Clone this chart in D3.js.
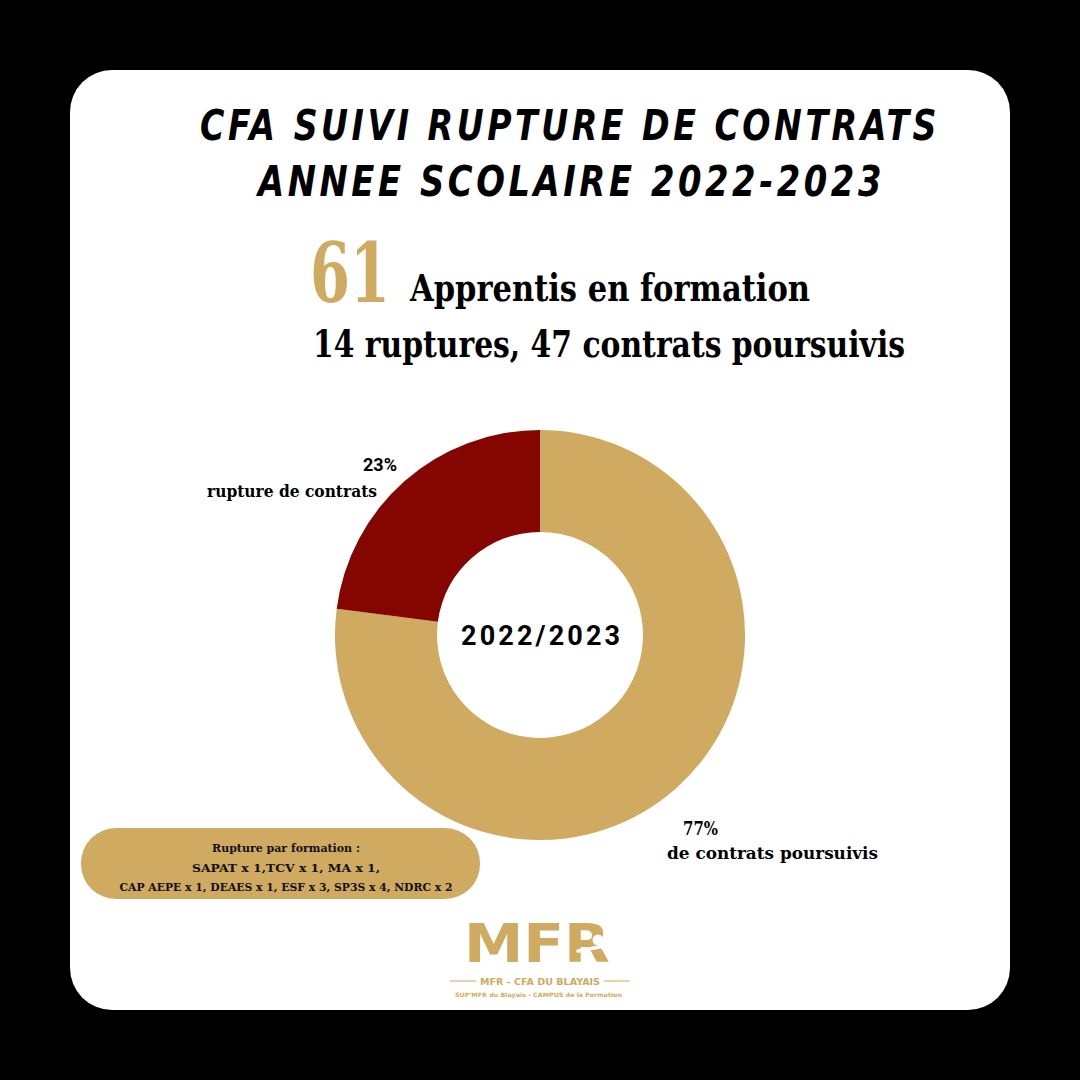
<!DOCTYPE html>
<meta charset="utf-8">
<style>
body { margin: 0; background: #000; }
svg { display: block; }
.serif { font-family: "DejaVu Serif", "Liberation Serif", serif; font-weight: bold; }
</style>
<body>
<script src="https://cdn.jsdelivr.net/npm/d3@7"></script>
<script>

var WIDTH = 1080;
var HEIGHT = 1080;
var GOLD = '#CFAA60';
var RED = '#850500';

// data
var categories = ['contrats poursuivis', 'rupture de contrats'];
var counts = [47, 14];
var sliceColors = [GOLD, RED];
var titleLines = ['CFA SUIVI RUPTURE DE CONTRATS', 'ANNEE SCOLAIRE 2022-2023'];
var detailLines = ['Rupture par formation :',
                   'SAPAT x 1,TCV x 1, MA x 1,',
                   'CAP AEPE x 1, DEAES x 1, ESF x 3, SP3S x 4, NDRC x 2'];

var total = d3.sum(counts);

var svg = d3.select('body').append('svg')
    .attr('width', WIDTH)
    .attr('height', HEIGHT);

svg.append('rect')
    .attr('width', WIDTH).attr('height', HEIGHT)
    .attr('fill', '#000');

// white card
svg.append('rect')
    .attr('x', 70).attr('y', 70)
    .attr('width', 940).attr('height', 940)
    .attr('rx', 42).attr('ry', 42)
    .attr('fill', '#fff');

// title
var titleX = [200, 258];
var titleW = [740, 627];
svg.selectAll('.title')
  .data(titleLines)
  .enter().append('text')
    .attr('class', 'title')
    .attr('x', function(d, i) { return titleX[i]; })
    .attr('y', function(d, i) { return 140 + i * 56; })
    .attr('font-family', '"DejaVu Sans Condensed", "DejaVu Sans", sans-serif')
    .attr('font-weight', 'bold')
    .attr('font-style', 'italic')
    .attr('font-size', 42)
    .attr('letter-spacing', 4)
    .attr('textLength', function(d, i) { return titleW[i]; })
    .attr('lengthAdjust', 'spacingAndGlyphs')
    .attr('fill', '#000')
    .text(function(d) { return d; });

// headline
svg.append('text')
    .attr('class', 'serif')
    .attr('x', 310).attr('y', 302)
    .attr('font-size', 82)
    .attr('textLength', 80)
    .attr('lengthAdjust', 'spacingAndGlyphs')
    .attr('fill', GOLD)
    .text(total);

svg.append('text')
    .attr('class', 'serif')
    .attr('x', 410).attr('y', 301)
    .attr('font-size', 38)
    .attr('textLength', 400)
    .attr('lengthAdjust', 'spacingAndGlyphs')
    .attr('fill', '#000')
    .text('Apprentis en formation');

svg.append('text')
    .attr('class', 'serif')
    .attr('x', 313).attr('y', 357)
    .attr('font-size', 37)
    .attr('textLength', 592)
    .attr('lengthAdjust', 'spacingAndGlyphs')
    .attr('fill', '#000')
    .text(counts[1] + ' ruptures, ' + counts[0] + ' contrats poursuivis');

// donut
var cx = 540, cy = 635;
var pie = d3.pie().sort(null);
var arc = d3.arc().innerRadius(103).outerRadius(205);
var g = svg.append('g').attr('transform', 'translate(' + cx + ',' + cy + ')');

g.selectAll('path')
  .data(pie(counts))
  .enter().append('path')
    .attr('d', arc)
    .attr('fill', function(d, i) { return sliceColors[i]; });

g.append('text')
    .attr('x', -79).attr('y', 10)
    .attr('font-family', 'Roboto, sans-serif')
    .attr('font-weight', 'bold')
    .attr('font-size', 27)
    .attr('textLength', 159)
    .attr('lengthAdjust', 'spacing')
    .attr('fill', '#000')
    .text('2022/2023');

var pct = counts.map(function(c) { return Math.round(100 * c / total) + '%'; });

// rupture label
svg.append('text')
    .attr('x', 397).attr('y', 471)
    .attr('text-anchor', 'end')
    .attr('font-family', 'Roboto, sans-serif')
    .attr('font-weight', 'bold')
    .attr('font-size', 18)
    .attr('fill', '#000')
    .text(pct[1]);
svg.append('text')
    .attr('class', 'serif')
    .attr('x', 207).attr('y', 497)
    .attr('font-size', 16)
    .attr('textLength', 170)
    .attr('lengthAdjust', 'spacingAndGlyphs')
    .attr('fill', '#000')
    .text(categories[1]);

// poursuivis label
svg.append('text')
    .attr('class', 'serif')
    .attr('x', 683).attr('y', 835)
    .attr('font-size', 18)
    .attr('textLength', 35)
    .attr('lengthAdjust', 'spacingAndGlyphs')
    .attr('fill', '#000')
    .text(pct[0]);
svg.append('text')
    .attr('class', 'serif')
    .attr('x', 667).attr('y', 859)
    .attr('font-size', 16)
    .attr('textLength', 211)
    .attr('lengthAdjust', 'spacingAndGlyphs')
    .attr('fill', '#000')
    .text('de ' + categories[0]);

// detail pill
svg.append('rect')
    .attr('x', 81).attr('y', 828)
    .attr('width', 399).attr('height', 71)
    .attr('rx', 35).attr('ry', 35)
    .attr('fill', GOLD);

var detailW = [148, 188, 333];
svg.selectAll('.detail')
  .data(detailLines)
  .enter().append('text')
    .attr('class', 'serif detail')
    .attr('x', function(d, i) { return 286 - detailW[i] / 2; })
    .attr('y', function(d, i) { return 852 + i * 19.5; })
    .attr('font-size', 11.5)
    .attr('textLength', function(d, i) { return detailW[i]; })
    .attr('lengthAdjust', 'spacingAndGlyphs')
    .attr('fill', '#111')
    .text(function(d) { return d; });

// logo
var logo = svg.append('g');
logo.append('text')
    .attr('x', 464).attr('y', 962)
    .attr('font-family', '"DejaVu Sans", sans-serif')
    .attr('font-weight', 'bold')
    .attr('font-size', 53)
    .attr('textLength', 146)
    .attr('lengthAdjust', 'spacingAndGlyphs')
    .attr('fill', GOLD)
    .text('MFR');
logo.append('circle')
    .attr('cx', 598).attr('cy', 940).attr('r', 5.5)
    .attr('fill', '#fff');
logo.append('path')
    .attr('d', 'M578,951 L610,945')
    .attr('stroke', '#fff').attr('stroke-width', 3.5)
    .attr('stroke-linecap', 'round');
logo.append('line')
    .attr('x1', 450).attr('y1', 981).attr('x2', 476).attr('y2', 981)
    .attr('stroke', GOLD).attr('stroke-width', 1);
logo.append('line')
    .attr('x1', 604).attr('y1', 981).attr('x2', 630).attr('y2', 981)
    .attr('stroke', GOLD).attr('stroke-width', 1);
logo.append('text')
    .attr('x', 480).attr('y', 984.5)
    .attr('font-family', '"DejaVu Sans", sans-serif')
    .attr('font-weight', 'bold')
    .attr('font-size', 8.5)
    .attr('textLength', 120)
    .attr('lengthAdjust', 'spacingAndGlyphs')
    .attr('fill', GOLD)
    .text('MFR - CFA DU BLAYAIS');
logo.append('text')
    .attr('x', 455).attr('y', 997)
    .attr('font-family', '"DejaVu Sans", sans-serif')
    .attr('font-weight', 'bold')
    .attr('font-size', 6)
    .attr('textLength', 167)
    .attr('lengthAdjust', 'spacingAndGlyphs')
    .attr('fill', GOLD)
    .text("SUP'MFR du Blayais - CAMPUS de la Formation");

</script>
